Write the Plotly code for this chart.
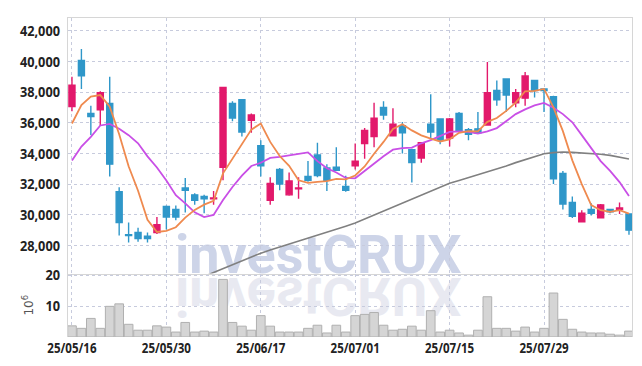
import plotly.graph_objects as go
from plotly.subplots import make_subplots

dates = ["25/05/16", "25/05/19", "25/05/20", "25/05/21", "25/05/22", "25/05/23", "25/05/26", "25/05/27",
         "25/05/28", "25/05/29", "25/05/30", "25/06/02", "25/06/04", "25/06/05", "25/06/09", "25/06/10",
         "25/06/11", "25/06/12", "25/06/13", "25/06/16", "25/06/17", "25/06/18", "25/06/19", "25/06/20",
         "25/06/23", "25/06/24", "25/06/25", "25/06/26", "25/06/27", "25/06/30", "25/07/01", "25/07/02",
         "25/07/03", "25/07/04", "25/07/07", "25/07/08", "25/07/09", "25/07/10", "25/07/11", "25/07/14",
         "25/07/15", "25/07/16", "25/07/17", "25/07/18", "25/07/21", "25/07/22", "25/07/23", "25/07/24",
         "25/07/25", "25/07/28", "25/07/29", "25/07/30", "25/07/31", "25/08/01", "25/08/04", "25/08/05",
         "25/08/06", "25/08/07", "25/08/08", "25/08/11"]

open_ = [37050, 40050, 36600, 36850, 37250, 31500, 28700, 28850, 28600, 28850,
         30550, 30350, 31750, 31300, 31200, 31050, 33100, 37250, 37500, 36150,
         34500, 30950, 32950, 31300, 31700, 32500, 33900, 33050, 33100, 31850,
         33200, 34650, 35100, 37000, 35150, 35800, 34250, 33700, 35900, 36250,
         35000, 36600, 35550, 35600, 35850, 38100, 38850, 37300, 37600, 38750,
         38200, 37700, 32700, 30800, 29550, 30350, 29800, 30350, 30350, 30050]
high = [39000, 40800, 37100, 38050, 39000, 31800, 29500, 29150, 28850, 29850,
        30600, 30600, 32400, 31400, 31300, 31550, 38350, 37400, 37550, 36600,
        34850, 32450, 33050, 32750, 32450, 33500, 34700, 33300, 34400, 32550,
        34650, 35650, 37300, 37400, 36950, 36050, 34300, 34750, 37850, 36250,
        36300, 36700, 35650, 36700, 39950, 38750, 38900, 38200, 39300, 38750,
        38250, 37750, 32850, 31200, 30300, 30750, 30700, 30400, 30800, 30050]
low = [36750, 38200, 35200, 35800, 32500, 28650, 28200, 28250, 28200, 28750,
       29050, 29650, 30150, 30650, 30100, 30650, 32250, 36100, 35100, 35350,
       32500, 30650, 31600, 31250, 31050, 32150, 32450, 31550, 32850, 31500,
       32950, 33650, 34400, 36200, 35100, 34000, 32100, 33400, 35000, 34600,
       34450, 35450, 34850, 35300, 35800, 37100, 36700, 37000, 37100, 37650,
       36700, 32000, 30350, 29800, 29500, 29950, 29800, 30100, 30050, 28700]
close = [38450, 39050, 36400, 37950, 33300, 29500, 28650, 28450, 28450, 29350,
         29850, 29850, 31600, 30950, 31050, 31100, 38300, 36300, 35400, 36500,
         33200, 32050, 32000, 32200, 31750, 32250, 32550, 32250, 32900, 31600,
         33500, 35500, 36300, 36500, 35900, 35350, 33400, 34700, 35400, 34850,
         36250, 35500, 35250, 35350, 37950, 37500, 37800, 37950, 39050, 38100,
         38100, 32350, 30700, 29900, 30100, 30100, 30650, 30200, 30450, 29000]

ma5 = [35950, 37150, 37700, 37800, 37050, 35250, 33160, 31570, 29670, 28880,
       28950, 29190, 29820, 30320, 30660, 30910, 32700, 33650, 34600, 35550,
       35950, 34750, 33830, 33190, 32250, 32080, 32150, 32200, 32340, 32310,
       32560, 33150, 33980, 34750, 35600, 35900, 35500, 35180, 34960, 34780,
       34920, 35340, 35450, 35440, 36060, 36310, 36770, 37310, 38050, 38080,
       38200, 37000, 35450, 33550, 32000, 30630, 30300, 30190, 30300, 30080]
ma20 = [33540, 34450, 35080, 35820, 35920, 35610, 35190, 34660, 33810, 33080,
        32230, 31280, 30750, 30160, 29850, 29990, 30970, 31810, 32550, 33180,
        33390, 33710, 33770, 33860, 33960, 34070, 33500, 33030, 32760, 32400,
        32380, 32860, 33390, 33810, 34240, 34340, 34380, 34660, 34870, 35140,
        35400, 35440, 35400, 35290, 35440, 35650, 36130, 36560, 36870, 37130,
        37290, 36980, 36560, 36030, 35190, 34340, 33500, 32860, 32130, 31220]
ma_long = [22430, 22680, 22940, 23190, 23450, 23700, 23950, 24210, 24460, 24720,
           24970, 25220, 25480, 25730, 25985, 26240, 26500, 26750, 27000, 27250,
           27500, 27700, 27890, 28090, 28280, 28460, 28660, 28860, 29060, 29260,
           29460, 29720, 29990, 30260, 30530, 30790, 31060, 31320, 31560, 31810,
           32060, 32240, 32420, 32610, 32790, 32970, 33180, 33400, 33600, 33790,
           33980, 34050, 34090, 34070, 34040, 34000, 33950, 33870, 33760, 33640]

volume_m = [3.6, 2.8, 6.0, 2.8, 9.9, 10.7, 4.1, 2.2, 2.2, 3.6,
            3.2, 1.6, 4.7, 1.6, 1.9, 1.6, 18.6, 4.7, 3.5, 2.2,
            6.9, 3.5, 1.6, 1.6, 1.6, 2.8, 3.8, 1.3, 3.8, 1.6,
            6.9, 7.3, 7.9, 3.8, 2.2, 2.5, 3.5, 2.2, 8.5, 1.6,
            2.2, 1.3, 0.6, 2.2, 13.0, 2.8, 2.8, 1.9, 3.2, 1.6,
            2.8, 14.2, 5.7, 2.5, 1.6, 1.3, 1.3, 0.9, 0.6, 1.9]

price_ticks = [28000, 30000, 32000, 34000, 36000, 38000, 40000, 42000]
volume_ticks = [10, 20]
x_ticks = dates[::10]

UP = "#e2196b"
DOWN = "#2f97c9"
GRID = "#c7cbdd"
BORDER = "#d6d6d6"
TICKFONT = dict(family="Noto Sans, DejaVu Sans, sans-serif", size=15, color="#222222", weight="bold")

fig = make_subplots(rows=2, cols=1, shared_xaxes=True, vertical_spacing=0,
                    row_heights=[0.801, 0.199])

fig.add_trace(go.Scatter(x=dates, y=ma_long, mode="lines",
                         line=dict(color="#808080", width=1.6), hoverinfo="skip"), row=1, col=1)
fig.add_trace(go.Candlestick(x=dates, open=open_, high=high, low=low, close=close,
                             increasing=dict(line=dict(color=UP, width=1.4), fillcolor=UP),
                             decreasing=dict(line=dict(color=DOWN, width=1.4), fillcolor=DOWN),
                             whiskerwidth=0), row=1, col=1)
fig.add_trace(go.Scatter(x=dates, y=ma20, mode="lines",
                         line=dict(color="#c94fe6", width=1.8), hoverinfo="skip"), row=1, col=1)
fig.add_trace(go.Scatter(x=dates, y=ma5, mode="lines",
                         line=dict(color="#ef8a4f", width=1.8), hoverinfo="skip"), row=1, col=1)
fig.add_trace(go.Bar(x=dates, y=volume_m, marker=dict(color="#d5d5d5", line=dict(color="#b0b0b0", width=1))),
              row=2, col=1)

fig.update_xaxes(type="category", range=[-0.42, 59.32], tickmode="array", tickvals=x_ticks,
                 ticktext=x_ticks, showgrid=True, gridcolor=GRID, griddash="dot", gridwidth=1,
                 rangeslider_visible=False, tickfont=TICKFONT, zeroline=False, ticks="")
fig.update_xaxes(showline=True, mirror=True, linecolor=BORDER, linewidth=1, row=1, col=1)
fig.update_xaxes(showline=False, row=2, col=1)

fig.update_yaxes(range=[26175, 42823], tickmode="array", tickvals=price_ticks, tickformat=",d",
                 showgrid=True, gridcolor=GRID, griddash="dot", gridwidth=1, zeroline=False,
                 showline=True, mirror=True, linecolor=BORDER, tickfont=TICKFONT,
                 ticklabelstandoff=4, row=1, col=1)
fig.update_yaxes(range=[0, 20.5], tickmode="array", tickvals=volume_ticks,
                 showgrid=True, gridcolor=GRID, griddash="dot", gridwidth=1, zeroline=False,
                 showline=True, mirror=True, linecolor=BORDER, tickfont=TICKFONT,
                 ticklabelstandoff=4,
                 title=dict(text="10<sup>6</sup>", font=dict(family="DejaVu Sans, sans-serif", size=12, color="#555555"),
                            standoff=6),
                 row=2, col=1)

fig.add_annotation(text="investCRUX", xref="paper", yref="paper", x=0.4445, y=0.26,
                   xanchor="center", yanchor="middle", showarrow=False,
                   font=dict(family="Roboto, sans-serif", size=54, weight="bold", color="#cdd4e8"))

fig.update_layout(width=642, height=366, autosize=False,
                  margin=dict(l=68, r=10, t=9, b=29),
                  paper_bgcolor="white", plot_bgcolor="rgba(0,0,0,0)",
                  showlegend=False, boxgap=0.36, boxgroupgap=0, bargap=0.08,
                  hovermode=False)

post = """
document.body.style.margin = '0';
document.body.style.overflow = 'hidden';
var gd = document.getElementById('{plot_id}');
function squeeze(sel, k){
  gd.querySelectorAll(sel).forEach(function(t){
    var L = t.getComputedTextLength();
    if(L > 0){
      t.setAttribute('lengthAdjust', 'spacingAndGlyphs');
      t.setAttribute('textLength', (L*k).toFixed(1));
    }
  });
}
function watermarkBelow(){
  var ann = gd.querySelector('g.annotation[data-index="0"]');
  var below = gd.querySelector('g.layer-below');
  if(!ann || !below) return;
  below.appendChild(ann);
  var ya = gd._fullLayout.yaxis;
  var Y = ya._offset + ya._length + 2;
  var clone = ann.cloneNode(true);
  clone.setAttribute('class', 'wm-reflect');
  clone.removeAttribute('data-index');
  clone.setAttribute('transform', 'translate(0,' + (2*Y) + ') scale(1,-1)');
  var t = clone.querySelector('text');
  if(t) t.style.fill = '#e8e9f1';
  below.appendChild(clone);
}
squeeze('g.ytick text, g.y2tick text', 0.85);
squeeze('g.xtick text, g.x2tick text', 0.77);
watermarkBelow();
"""

fig.write_html("out.html", config={"displayModeBar": False}, post_script=post)
